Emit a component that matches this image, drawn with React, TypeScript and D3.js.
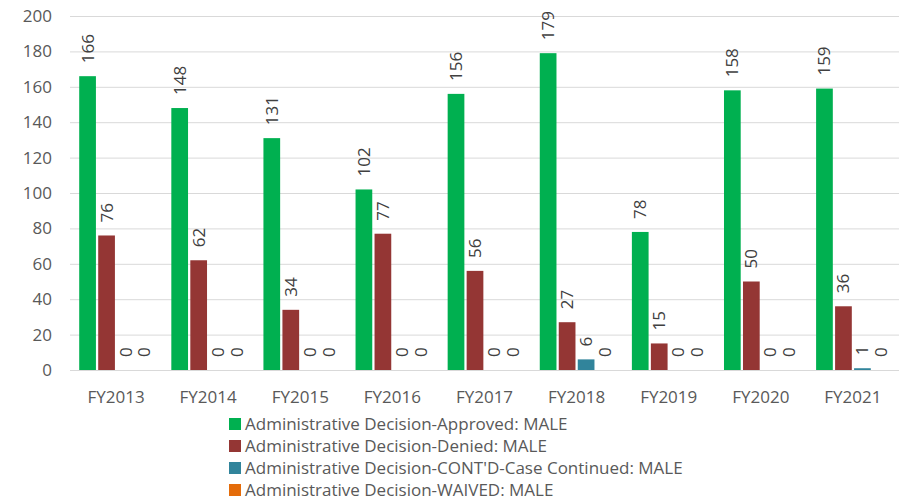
import { useEffect, useRef } from 'react'
import * as d3 from 'd3'

const YEARS = ['FY2013', 'FY2014', 'FY2015', 'FY2016', 'FY2017', 'FY2018', 'FY2019', 'FY2020', 'FY2021']
const APPROVED = [166, 148, 131, 102, 156, 179, 78, 158, 159]
const DENIED = [76, 62, 34, 77, 56, 27, 15, 50, 36]
const CONTINUED = [0, 0, 0, 0, 0, 6, 0, 0, 1]
const WAIVED = [0, 0, 0, 0, 0, 0, 0, 0, 0]

const SERIES = [
  { name: 'Administrative Decision-Approved: MALE', values: APPROVED, color: '#00B050' },
  { name: 'Administrative Decision-Denied: MALE', values: DENIED, color: '#943634' },
  { name: "Administrative Decision-CONT'D-Case Continued: MALE", values: CONTINUED, color: '#31849B' },
  { name: 'Administrative Decision-WAIVED: MALE', values: WAIVED, color: '#E46C0A' },
]
const Y_TICKS = [0, 20, 40, 60, 80, 100, 120, 140, 160, 180, 200]

const FONT = "'Open Sans', 'Liberation Sans', sans-serif"
const TEXT = '#595959'

export default function App() {
  const svgRef = useRef<SVGSVGElement>(null)

  useEffect(() => {
    if (!svgRef.current) return
    const W = 905, H = 501
    const svg = d3.select(svgRef.current)
    svg.selectAll('*').remove()

    const left = 70, right = 899, top = 16, bottom = 370

    const x = d3.scaleBand().domain(YEARS).range([left, right]).paddingInner(0.2).paddingOuter(0.1)
    const xs = d3.scaleBand().domain(SERIES.map(s => s.name)).range([0, x.bandwidth()]).paddingInner(0.12)
    const y = d3.scaleLinear().domain([0, 200]).range([bottom, top])

    // grid
    svg.append('g').selectAll('line').data(Y_TICKS).enter().append('line')
      .attr('x1', left).attr('x2', right)
      .attr('y1', d => y(d) + 0.5).attr('y2', d => y(d) + 0.5)
      .attr('stroke', '#D9D9D9').attr('stroke-width', 1)

    // y tick labels
    svg.append('g').selectAll('text').data(Y_TICKS).enter().append('text')
      .attr('x', 52).attr('y', d => y(d)).attr('dy', '0.35em')
      .attr('text-anchor', 'end').attr('fill', TEXT)
      .attr('font-family', FONT).attr('font-size', 17)
      .text(d => d)

    // x labels
    svg.append('g').selectAll('text').data(YEARS).enter().append('text')
      .attr('x', d => (x(d) ?? 0) + x.bandwidth() / 2).attr('y', 397).attr('dy', '0.35em')
      .attr('text-anchor', 'middle').attr('fill', TEXT)
      .attr('font-family', FONT).attr('font-size', 17)
      .text(d => d)

    // bars + labels
    SERIES.forEach(s => {
      const g = svg.append('g')
      YEARS.forEach((yr, i) => {
        const v = s.values[i]
        const bx = (x(yr) ?? 0) + (xs(s.name) ?? 0)
        const bw = xs.bandwidth()
        if (v > 0) {
          g.append('rect')
            .attr('x', bx).attr('y', y(v)).attr('width', bw).attr('height', y(0) - y(v))
            .attr('fill', s.color)
        }
        const cx = bx + bw / 2
        const ty = y(v) - 13
        g.append('text')
          .attr('transform', `translate(${cx},${ty}) rotate(-90)`)
          .attr('dy', '0.35em')
          .attr('text-anchor', 'start')
          .attr('fill', '#404040')
          .attr('font-family', FONT).attr('font-size', 17)
          .text(v)
      })
    })

    // legend
    const lg = svg.append('g')
    SERIES.forEach((s, i) => {
      const ly = 424 + i * 22
      lg.append('rect').attr('x', 229).attr('y', ly - 6).attr('width', 12).attr('height', 12).attr('fill', s.color)
      lg.append('text').attr('x', 245).attr('y', ly).attr('dy', '0.35em')
        .attr('fill', TEXT).attr('font-family', FONT).attr('font-size', 17)
        .text(s.name)
    })

    svg.attr('width', W).attr('height', H)
  }, [])

  return <svg ref={svgRef} style={{ display: 'block', position: 'absolute', left: 0, top: 0, background: '#fff' }} />
}
